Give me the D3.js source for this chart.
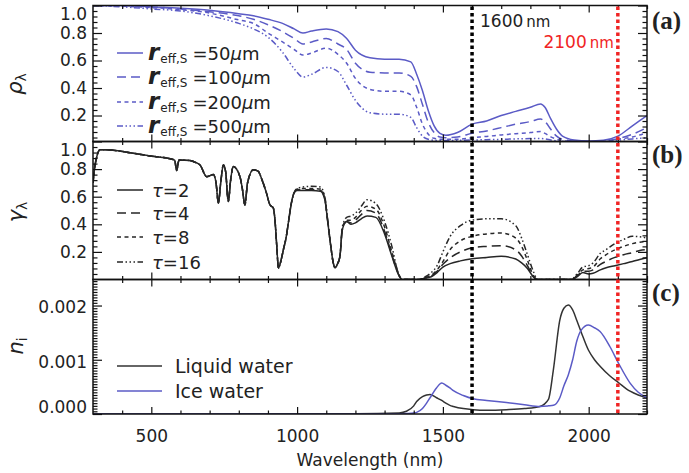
<!DOCTYPE html>
<html>
<head>
<meta charset="utf-8">
<script src="https://cdn.jsdelivr.net/npm/d3@7"></script>
<style>
  body { margin: 0; background: #fff; }
  svg { display: block; }
  text { font-family: "DejaVu Sans", sans-serif; fill: #222; }
</style>
</head>
<body>
<svg id="chart" width="689" height="473"></svg>
<script>
// ---------- (a) snow reflectance for four grain radii ----------
const waveA = [300, 400, 500, 600, 700, 800, 850, 900, 950, 990,
  1020, 1050, 1100, 1140, 1170, 1200, 1250, 1300, 1350, 1390,
  1410, 1430, 1450, 1470, 1490, 1510, 1550, 1600, 1650, 1700,
  1750, 1800, 1835, 1850, 1870, 1890, 1910, 1950, 2000, 2050,
  2100, 2150, 2200];
const rho50 = [1.0, 1.0, 0.99, 0.98, 0.965, 0.94, 0.925, 0.90, 0.87, 0.83,
  0.80, 0.815, 0.83, 0.81, 0.76, 0.675, 0.62, 0.61, 0.61, 0.59,
  0.50, 0.38, 0.235, 0.125, 0.07, 0.056, 0.076, 0.137, 0.16, 0.20,
  0.23, 0.26, 0.284, 0.26, 0.175, 0.10, 0.05, 0.022, 0.015, 0.02,
  0.05, 0.125, 0.20];
const rho100 = [1.0, 1.0, 0.99, 0.975, 0.955, 0.925, 0.90, 0.86, 0.81, 0.76,
  0.72, 0.735, 0.76, 0.72, 0.68, 0.58, 0.515, 0.51, 0.51, 0.485,
  0.41, 0.28, 0.15, 0.076, 0.044, 0.039, 0.044, 0.071, 0.088, 0.112,
  0.137, 0.156, 0.174, 0.156, 0.10, 0.05, 0.027, 0.015, 0.012, 0.015,
  0.032, 0.064, 0.112];
const rho200 = [1.0, 0.995, 0.985, 0.97, 0.945, 0.895, 0.87, 0.80, 0.735, 0.68,
  0.64, 0.655, 0.69, 0.645, 0.58, 0.47, 0.39, 0.376, 0.376, 0.35,
  0.26, 0.137, 0.064, 0.034, 0.027, 0.027, 0.027, 0.039, 0.048, 0.059,
  0.068, 0.076, 0.083, 0.07, 0.045, 0.028, 0.018, 0.011, 0.01, 0.012,
  0.027, 0.044, 0.076];
const rho500 = [1.0, 0.99, 0.975, 0.96, 0.925, 0.87, 0.83, 0.77, 0.66, 0.54,
  0.48, 0.50, 0.55, 0.52, 0.42, 0.31, 0.22, 0.21, 0.21, 0.186,
  0.112, 0.05, 0.027, 0.02, 0.018, 0.018, 0.02, 0.022, 0.024, 0.027,
  0.03, 0.032, 0.033, 0.03, 0.022, 0.015, 0.012, 0.009, 0.008, 0.01,
  0.02, 0.03, 0.039];
const radii = [50, 100, 200, 500];

// ---------- (b) gas transmittance for four optical depths ----------
// shared below 1000 nm, where all four curves coincide
const gasWaveCommon = [300, 305, 313, 324, 340, 438, 495, 553, 580, 587,
  595, 632, 650, 667, 690, 713, 722, 730, 738, 747,
  755, 764, 772, 781, 804, 812, 821, 830, 850, 866,
  880, 895, 907, 918, 924, 930, 936, 945, 953, 962,
  970, 980, 990];
const gasCommon = [0.70, 0.80, 0.89, 0.94, 0.94, 0.915, 0.895, 0.88, 0.865, 0.79,
  0.866, 0.862, 0.85, 0.83, 0.745, 0.76, 0.70, 0.554, 0.70, 0.83,
  0.78, 0.565, 0.72, 0.818, 0.745, 0.66, 0.54, 0.70, 0.795, 0.785,
  0.72, 0.626, 0.54, 0.52, 0.433, 0.25, 0.084, 0.14, 0.217, 0.30,
  0.41, 0.55, 0.63];
const gasWaveTail = [1000, 1020, 1050, 1080, 1095, 1105, 1115, 1124, 1130, 1138,
  1147, 1155, 1170, 1185, 1200, 1220, 1240, 1270, 1300, 1325,
  1345, 1360, 1420, 1440, 1460, 1480, 1500, 1525, 1560, 1600,
  1650, 1700, 1750, 1770, 1790, 1810, 1825, 1940, 1960, 1980,
  2000, 2015, 2040, 2060, 2090, 2120, 2150, 2175, 2200];
const gasTau2 = [0.645, 0.645, 0.645, 0.64, 0.58, 0.42, 0.25, 0.12, 0.085, 0.11,
  0.17, 0.36, 0.42, 0.40, 0.41, 0.44, 0.46, 0.45, 0.33, 0.17,
  0.05, 0.0, 0.0, 0.01, 0.02, 0.05, 0.09, 0.115, 0.135, 0.15,
  0.16, 0.168, 0.148, 0.12, 0.08, 0.02, 0.0, 0.0, 0.02, 0.05,
  0.04, 0.045, 0.07, 0.085, 0.10, 0.115, 0.13, 0.145, 0.157];
const gasTau4 = [0.65, 0.65, 0.65, 0.645, 0.585, 0.42, 0.25, 0.12, 0.085, 0.11,
  0.17, 0.36, 0.42, 0.41, 0.43, 0.47, 0.50, 0.48, 0.35, 0.18,
  0.05, 0.0, 0.0, 0.012, 0.025, 0.06, 0.11, 0.157, 0.20, 0.23,
  0.24, 0.245, 0.215, 0.17, 0.10, 0.02, 0.0, 0.0, 0.025, 0.06,
  0.06, 0.07, 0.11, 0.132, 0.16, 0.18, 0.195, 0.21, 0.217];
const gasTau8 = [0.655, 0.66, 0.66, 0.655, 0.59, 0.42, 0.25, 0.12, 0.085, 0.11,
  0.17, 0.37, 0.43, 0.43, 0.45, 0.50, 0.53, 0.51, 0.38, 0.20,
  0.06, 0.0, 0.0, 0.015, 0.03, 0.07, 0.13, 0.217, 0.28, 0.313,
  0.33, 0.337, 0.30, 0.24, 0.14, 0.03, 0.0, 0.0, 0.03, 0.07,
  0.08, 0.09, 0.15, 0.18, 0.215, 0.24, 0.26, 0.27, 0.277];
const gasTau16 = [0.66, 0.67, 0.675, 0.67, 0.60, 0.43, 0.25, 0.12, 0.085, 0.11,
  0.17, 0.38, 0.45, 0.46, 0.48, 0.53, 0.578, 0.55, 0.42, 0.24,
  0.06, 0.0, 0.0, 0.02, 0.05, 0.10, 0.20, 0.313, 0.39, 0.43,
  0.44, 0.44, 0.39, 0.30, 0.18, 0.06, 0.0, 0.0, 0.04, 0.09,
  0.10, 0.12, 0.19, 0.217, 0.26, 0.29, 0.313, 0.31, 0.30];
const taus = [2, 4, 8, 16];

// ---------- (c) imaginary refractive index ----------
const waveN = [300, 1200, 1350, 1375, 1400, 1410, 1430, 1444, 1456, 1478,
  1496, 1510, 1524, 1536, 1570, 1604, 1650, 1718, 1780, 1833,
  1862, 1879, 1901, 1915, 1930, 1945, 1959, 1975, 1999, 2020,
  2039, 2073, 2102, 2142, 2170, 2200];
const niLiquid = [0, 0.000005, 0.00002, 0.00005, 0.00015, 0.00023, 0.00032, 0.00035, 0.00036, 0.0003,
  0.00025, 0.0002, 0.00016, 0.00014, 0.0001, 0.00008, 0.00007, 0.00008, 0.0001, 0.00014,
  0.00027, 0.00082, 0.00173, 0.00195, 0.00201, 0.00192, 0.00173, 0.0015, 0.00118, 0.001,
  0.00088, 0.0007, 0.00058, 0.00042, 0.00035, 0.0003];
const niIce = [0, 0, 0.000005, 0.00001, 0.00002, 0.00003, 0.0001, 0.0002, 0.0003, 0.00048,
  0.00057, 0.00053, 0.00048, 0.00043, 0.00034, 0.00028, 0.00025, 0.00021, 0.00017, 0.00014,
  0.00015, 0.00016, 0.0003, 0.00052, 0.00072, 0.001, 0.00134, 0.00155, 0.00164, 0.00159,
  0.00152, 0.00124, 0.00094, 0.00057, 0.0004, 0.0003];
const niNames = ["Liquid water", "Ice water"];

// ---------- axes ----------
const xMajor = [500, 1000, 1500, 2000];
const xMinor = [400, 600, 700, 800, 900, 1100, 1200, 1300, 1400, 1600, 1700, 1800, 1900, 2100, 2200];
const unitTicks = [0.2, 0.4, 0.6, 0.8, 1.0];
const niTicks = [0, 0.001, 0.002];
const markerWaves = [1600, 2100];
const markerLabels = ["1600", "2100"];

const BLUE = "#5b5bc6";
const DARK = "#262626";
const RED = "#f02424";
const dashes = [null, "9,5", "4,3.5", "6,2.5,1.5,2.5,1.5,2.5,1.5,2.5"];

const svg = d3.select("#chart");
svg.append("rect").attr("width", 689).attr("height", 473).attr("fill", "#fff");

const x = d3.scaleLinear().domain([300, 2200]).range([93, 647]);
const X0 = 93, X1 = 647;

const panels = {
  a: { y: d3.scaleLinear().domain([0.011, 1.0]).range([141.5, 5.5]), top: 5.5, bottom: 141.5 },
  b: { y: d3.scaleLinear().domain([0, 1.0]).range([279.5, 141.5]), top: 141.5, bottom: 279.5 },
  c: { y: d3.scaleLinear().domain([0, 0.00248]).range([414, 279.5]), top: 279.5, bottom: 414 }
};

const defs = svg.append("defs");
Object.entries(panels).forEach(([k, p]) => {
  defs.append("clipPath").attr("id", "clip-" + k)
    .append("rect").attr("x", X0).attr("y", p.top)
    .attr("width", X1 - X0).attr("height", p.bottom - p.top);
});

function tickAxis(g) {
  g.select(".domain").remove();
  g.selectAll("line").attr("stroke", "#111").attr("stroke-width", 1.2);
}

function drawFrame(p, yMajor, yMinor) {
  const g = svg.append("g");
  g.append("g").attr("transform", `translate(0,${p.bottom})`)
    .call(d3.axisBottom(x).tickValues(xMajor).tickSize(-7).tickFormat("")).call(tickAxis);
  g.append("g").attr("transform", `translate(0,${p.bottom})`)
    .call(d3.axisBottom(x).tickValues(xMinor).tickSize(-3.5).tickFormat("")).call(tickAxis);
  g.append("g").attr("transform", `translate(0,${p.top})`)
    .call(d3.axisTop(x).tickValues(xMajor).tickSize(-7).tickFormat("")).call(tickAxis);
  g.append("g").attr("transform", `translate(0,${p.top})`)
    .call(d3.axisTop(x).tickValues(xMinor).tickSize(-3.5).tickFormat("")).call(tickAxis);
  g.append("g").attr("transform", `translate(${X0},0)`)
    .call(d3.axisLeft(p.y).tickValues(yMajor).tickSize(-9).tickFormat("")).call(tickAxis);
  g.append("g").attr("transform", `translate(${X0},0)`)
    .call(d3.axisLeft(p.y).tickValues(yMinor).tickSize(-4.5).tickFormat("")).call(tickAxis);
  g.append("g").attr("transform", `translate(${X1},0)`)
    .call(d3.axisRight(p.y).tickValues(yMajor).tickSize(-9).tickFormat("")).call(tickAxis);
  g.append("g").attr("transform", `translate(${X1},0)`)
    .call(d3.axisRight(p.y).tickValues(yMinor).tickSize(-4.5).tickFormat("")).call(tickAxis);
  g.append("rect").attr("x", X0).attr("y", p.top)
    .attr("width", X1 - X0).attr("height", p.bottom - p.top)
    .attr("fill", "none").attr("stroke", "#111").attr("stroke-width", 1.5);
}

function yLabels(p, values, fmt, shiftFn) {
  const g = svg.append("g").attr("transform", `translate(${X0},0)`)
    .call(d3.axisLeft(p.y).tickValues(values).tickSize(0).tickPadding(6).tickFormat(fmt));
  g.select(".domain").remove();
  g.attr("font-family", null).attr("font-size", null);
  g.selectAll("text").style("font-size", "17px").attr("fill", "#333")
    .attr("dy", d => (0.32 * 17 + shiftFn(d)) + "px");
}

function curve(panelKey, waves, values, color, dash) {
  const p = panels[panelKey];
  const pts = waves.map((w, i) => [w, values[i]]);
  const line = d3.line().x(d => x(d[0])).y(d => p.y(d[1])).curve(d3.curveMonotoneX);
  svg.append("path").attr("clip-path", `url(#clip-${panelKey})`)
    .attr("d", line(pts)).attr("fill", "none")
    .attr("stroke", color).attr("stroke-width", 1.5)
    .attr("stroke-linejoin", "round")
    .attr("stroke-dasharray", dash);
}

// minor tick positions
const unitMinor = d3.range(1, 26).map(i => +(i * 0.04).toFixed(2)).filter(v => unitTicks.indexOf(v) < 0);
const niMinor = d3.range(1, 50).map(i => +(i * 0.00005).toFixed(5)).filter(v => v % 0.001 !== 0);

// ---------- curves ----------
[rho50, rho100, rho200, rho500].forEach((s, i) => curve("a", waveA, s, BLUE, dashes[i]));
const gasWave = gasWaveCommon.concat(gasWaveTail);
[gasTau2, gasTau4, gasTau8, gasTau16].forEach((s, i) =>
  curve("b", gasWave, gasCommon.concat(s), DARK, dashes[i]));
curve("c", waveN, niLiquid, "#333", null);
curve("c", waveN, niIce, BLUE, null);

// ---------- frames and ticks ----------
drawFrame(panels.a, unitTicks, unitMinor);
drawFrame(panels.b, unitTicks, unitMinor);
drawFrame(panels.c, niTicks, niMinor);

yLabels(panels.a, unitTicks, d3.format(".1f"), d => d === 1 ? 9 : 0);
yLabels(panels.b, unitTicks, d3.format(".1f"), d => d === 1 ? 9 : 0);
yLabels(panels.c, niTicks, d3.format(".3f"), d => d === 0 ? -7 : 2);

const xl = svg.append("g").attr("transform", `translate(0,${panels.c.bottom})`)
  .call(d3.axisBottom(x).tickValues(xMajor).tickSize(0).tickPadding(16).tickFormat(d3.format("d")));
xl.select(".domain").remove();
xl.attr("font-family", null).attr("font-size", null);
xl.selectAll("text").style("font-size", "17px").attr("fill", "#333");

svg.append("text").attr("x", 370).attr("y", 466).attr("text-anchor", "middle")
  .style("font-size", "17px").attr("fill", "#333").text("Wavelength (nm)");

// ---------- vertical marker lines ----------
markerWaves.forEach((w, i) => {
  svg.append("line").attr("x1", x(w)).attr("x2", x(w))
    .attr("y1", panels.a.top + 1).attr("y2", panels.c.bottom)
    .attr("stroke", i === 0 ? "#000" : RED).attr("stroke-width", 3.5)
    .attr("stroke-dasharray", "3.5,3");
});
const m1 = svg.append("text").attr("x", x(1600) + 8).attr("y", 27).attr("fill", "#111");
m1.append("tspan").style("font-size", "17px").text(markerLabels[0]);
m1.append("tspan").attr("dx", 3).style("font-size", "15px").text("nm");
const m2 = svg.append("text").attr("x", x(2100) - 4).attr("y", 48).attr("text-anchor", "end")
  .style("fill", RED);
m2.append("tspan").style("font-size", "17px").style("fill", RED).text(markerLabels[1]);
m2.append("tspan").attr("dx", 3).style("font-size", "15px").style("fill", RED).text("nm");

// ---------- legends ----------
const rowsA = [53, 77, 102, 126];
radii.forEach((r, i) => {
  svg.append("line").attr("x1", 117).attr("x2", 143).attr("y1", rowsA[i]).attr("y2", rowsA[i])
    .attr("stroke", BLUE).attr("stroke-width", 1.5).attr("stroke-dasharray", dashes[i]);
  const t = svg.append("text").attr("x", 148).attr("y", rowsA[i] + 7);
  t.append("tspan").style("font-size", "23px").style("font-style", "italic")
    .style("font-weight", "bold").text("r");
  t.append("tspan").attr("dx", 1).attr("dy", 3).style("font-size", "12px").text("eff,S");
  t.append("tspan").attr("dx", 5).attr("dy", -3).style("font-size", "18px").text("=" + r);
  t.append("tspan").style("font-size", "18px").style("font-style", "italic").text("μ");
  t.append("tspan").style("font-size", "18px").text("m");
});

const rowsB = [190, 213, 237, 262];
taus.forEach((tv, i) => {
  svg.append("line").attr("x1", 117).attr("x2", 143).attr("y1", rowsB[i]).attr("y2", rowsB[i])
    .attr("stroke", DARK).attr("stroke-width", 1.5).attr("stroke-dasharray", dashes[i]);
  const t = svg.append("text").attr("x", 152).attr("y", rowsB[i] + 6.5).style("font-size", "18px");
  t.append("tspan").style("font-style", "italic").text("τ");
  t.append("tspan").text("=" + tv);
});

const rowsC = [366, 391];
niNames.forEach((name, i) => {
  svg.append("line").attr("x1", 117).attr("x2", 162).attr("y1", rowsC[i]).attr("y2", rowsC[i])
    .attr("stroke", i === 0 ? "#333" : BLUE).attr("stroke-width", 1.5);
  svg.append("text").attr("x", 175).attr("y", rowsC[i] + 6.5)
    .style("font-size", "19px").attr("fill", "#333").text(name);
});

// ---------- axis titles ----------
function yTitle(cx, cy, main, sub) {
  const t = svg.append("text").attr("transform", `translate(${cx},${cy}) rotate(-90)`)
    .attr("text-anchor", "middle");
  t.append("tspan").style("font-size", "21px").style("font-style", "italic").text(main);
  t.append("tspan").attr("dy", 4).style("font-size", "14px").text(sub);
}
yTitle(22, 84, "ρ", "λ");
yTitle(23, 212, "γ", "λ");
yTitle(23, 346, "n", "i");

// ---------- panel letters ----------
["(a)", "(b)", "(c)"].forEach((lbl, i) => {
  svg.append("text").attr("x", 652).attr("y", [29, 163, 301][i])
    .style("font-family", "'Liberation Serif', serif").style("font-weight", "bold")
    .style("font-size", "25px").attr("fill", "#111").text(lbl);
});
</script>
</body>
</html>
